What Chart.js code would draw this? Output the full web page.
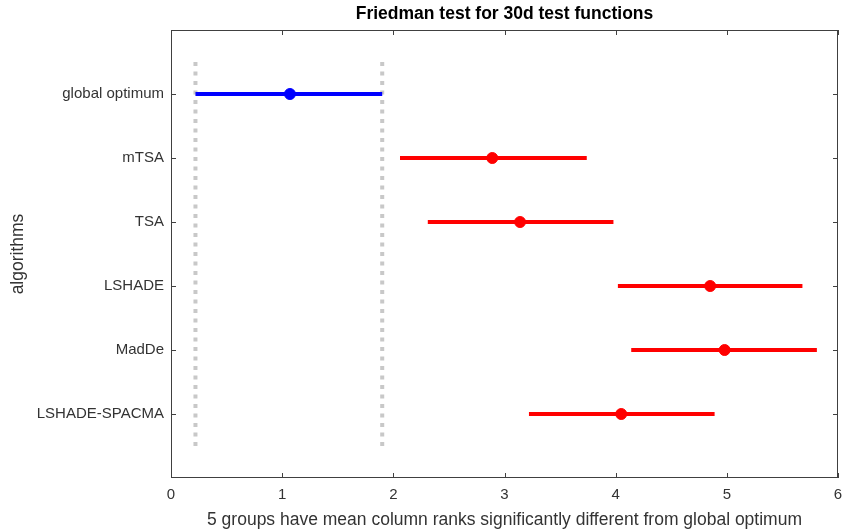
<!DOCTYPE html>
<html>
<head>
<meta charset="utf-8">
<script src="https://cdn.jsdelivr.net/npm/chart.js@4/dist/chart.umd.min.js"></script>
<style>
  html, body { margin: 0; padding: 0; background: #fff; }
  #wrap { width: 842px; height: 531px; }
</style>
</head>
<body>
<div id="wrap"><canvas id="chart" width="842" height="531"></canvas></div>
<script>
// Friedman test multiple comparison (mean column ranks with intervals)
const algorithms = ['global optimum', 'mTSA', 'TSA', 'LSHADE', 'MadDe', 'LSHADE-SPACMA'];
const meanRanks  = [1.07, 2.89, 3.14, 4.85, 4.98, 4.05];
const lowerBounds = [0.22, 2.06, 2.31, 4.02, 4.14, 3.22];
const upperBounds = [1.90, 3.74, 3.98, 5.68, 5.81, 4.89];
const xTicks = [0, 1, 2, 3, 4, 5, 6];

const AXIS_COLOR = '#404040';
const TEXT_COLOR = '#333333';
const FONT = 'Liberation Sans, Arial, Helvetica, sans-serif';

function rowColor(i) { return i === 0 ? '#0000ff' : '#ff0000'; }

const datasets = [];

// dotted reference lines at the bounds of the selected group
[lowerBounds[0], upperBounds[0]].forEach(x => {
  datasets.push({
    type: 'line',
    data: [{ x: x, y: 0.5 }, { x: x, y: algorithms.length + 0.5 }],
    borderColor: '#c8c8c8',
    borderWidth: 4,
    borderDash: [4, 5.5],
    borderCapStyle: 'butt',
    pointRadius: 0,
    order: 3
  });
});

// interval lines
algorithms.forEach((name, i) => {
  datasets.push({
    type: 'line',
    data: [{ x: lowerBounds[i], y: i + 1 }, { x: upperBounds[i], y: i + 1 }],
    borderColor: rowColor(i),
    borderWidth: 4,
    borderCapStyle: 'butt',
    pointRadius: 0,
    order: 2
  });
});

// mean rank markers
datasets.push({
  type: 'scatter',
  data: meanRanks.map((m, i) => ({ x: m, y: i + 1 })),
  backgroundColor: algorithms.map((_, i) => rowColor(i)),
  borderColor: algorithms.map((_, i) => rowColor(i)),
  pointRadius: 5.5,
  pointHoverRadius: 5.5,
  order: 1
});

// box around the plot + inward ticks on all four sides
const boxPlugin = {
  id: 'matlabBox',
  afterDraw(chart) {
    const { ctx, chartArea: a, scales } = chart;
    const len = 5;
    ctx.save();
    ctx.strokeStyle = AXIS_COLOR;
    ctx.lineWidth = 1;
    ctx.strokeRect(Math.round(a.left) + 0.5, Math.round(a.top) + 0.5,
      Math.round(a.right - a.left) - 1, Math.round(a.bottom - a.top) - 1);
    ctx.beginPath();
    xTicks.forEach(v => {
      const px = Math.round(scales.x.getPixelForValue(v)) + 0.5;
      ctx.moveTo(px, a.bottom); ctx.lineTo(px, a.bottom - len);
      ctx.moveTo(px, a.top); ctx.lineTo(px, a.top + len);
    });
    algorithms.forEach((_, i) => {
      const py = Math.round(scales.y.getPixelForValue(i + 1)) + 0.5;
      ctx.moveTo(a.left, py); ctx.lineTo(a.left + len, py);
      ctx.moveTo(a.right, py); ctx.lineTo(a.right - len, py);
    });
    ctx.stroke();
    ctx.restore();
  }
};

new Chart(document.getElementById('chart'), {
  type: 'scatter',
  data: { datasets },
  plugins: [boxPlugin],
  options: {
    responsive: false,
    animation: false,
    layout: { autoPadding: false, padding: { right: 4, left: 0, top: 0, bottom: 0 } },
    plugins: {
      legend: { display: false },
      tooltip: { enabled: false },
      title: {
        display: true,
        fullSize: false,
        text: 'Friedman test for 30d test functions',
        color: '#000',
        font: { family: FONT, size: 17.5, weight: 'bold' },
        padding: { top: 4, bottom: 5 }
      }
    },
    scales: {
      x: {
        type: 'linear',
        min: 0,
        max: 6,
        afterBuildTicks: s => { s.ticks = xTicks.map(v => ({ value: v })); },
        afterFit: s => { s.height = 53; s.paddingRight = 0; s.paddingLeft = 0; },
        grid: { display: false, drawTicks: false },
        border: { display: false },
        ticks: { color: TEXT_COLOR, font: { family: FONT, size: 15 }, padding: 8, maxRotation: 0 },
        title: {
          display: true,
          text: '5 groups have mean column ranks significantly different from global optimum',
          color: TEXT_COLOR,
          font: { family: FONT, size: 17.5 },
          padding: { top: 0, bottom: 0 }
        }
      },
      y: {
        type: 'linear',
        min: 0,
        max: algorithms.length + 1,
        reverse: true,
        afterBuildTicks: s => { s.ticks = algorithms.map((_, i) => ({ value: i + 1 })); },
        afterFit: s => { s.width = 171; },
        grid: { display: false, drawTicks: false },
        border: { display: false },
        ticks: {
          color: TEXT_COLOR,
          font: { family: FONT, size: 15 },
          padding: 7,
          callback: v => algorithms[v - 1] || ''
        },
        title: {
          display: true,
          text: 'algorithms',
          color: TEXT_COLOR,
          font: { family: FONT, size: 17.5 },
          padding: { top: 8, bottom: 0 }
        }
      }
    }
  }
});
</script>
</body>
</html>
